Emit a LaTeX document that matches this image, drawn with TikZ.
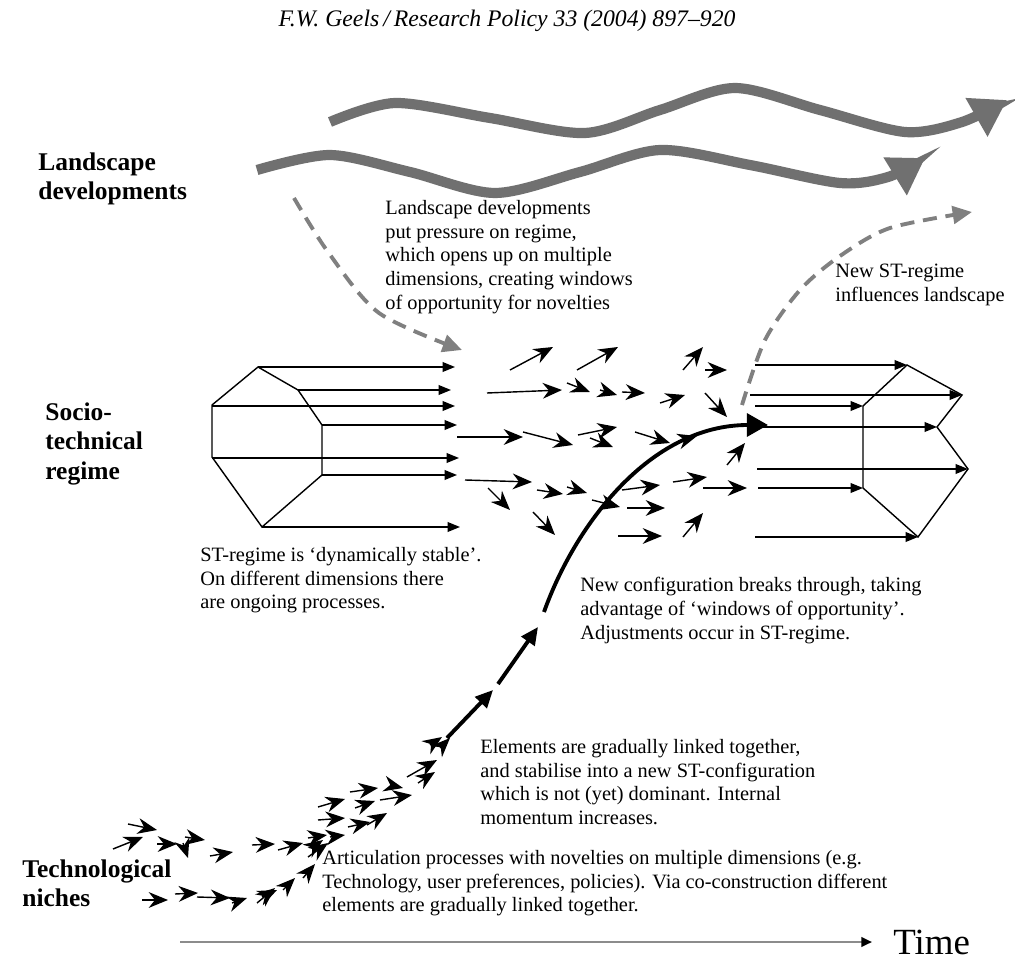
\documentclass[tikz,border=0pt]{standalone}
\usepackage{fontspec}
\setmainfont{Liberation Serif}
\usetikzlibrary{arrows.meta}
\definecolor{wavegray}{RGB}{112,112,112}
\definecolor{dashgray}{RGB}{128,128,128}
\definecolor{axisgray}{RGB}{140,140,140}

\begin{document}
\begin{tikzpicture}[x=0.02cm,y=-0.02cm,
    levelname/.style={font=\fontsize{14.5}{17}\selectfont\bfseries,align=left,anchor=north west,inner sep=0pt},
    note/.style={font=\fontsize{11.6}{13.5}\selectfont,align=left,anchor=north west,inner sep=0pt},
    wave/.style={wavegray,line width=5.8pt,-{Triangle[length=20pt,width=24pt]}},
    feedback/.style={dashgray,line width=2.2pt,dash pattern=on 8pt off 5pt,-{Triangle[length=11pt,width=10pt]}},
    dim/.style={line width=0.8pt,-{Triangle[length=7pt,width=5.5pt]}},
    move/.style={line width=0.8pt,-{Stealth[length=11pt,width=9pt]}},
    trajectory/.style={line width=2.2pt}]
  \useasboundingbox (0,0) rectangle (1015,976);
  \fill[white] (0,0) rectangle (1015,976);

  % header
  \node[font=\fontsize{13.5}{16}\selectfont\itshape,anchor=base] (head) at (507,27)
    {F.W. Geels\,/\,Research Policy 33 (2004) 897--920};

  % levels
  \node[levelname] (landscape) at (38,152) {Landscape\\developments};
  \node[levelname] (regime) at (45,402) {Socio-\\technical\\regime};
  \node[levelname] (niches) at (22,859) {Technological\\niches};

  % landscape waves
  \draw[wave] plot[smooth] coordinates {(330,122) (395,103) (490,118) (585,133) (660,110)
    (735,88) (820,110) (905,132) (962,122) (1007,100)};
  \draw[wave] plot[smooth] coordinates {(257,170) (330,155) (410,172) (495,193) (580,172)
    (660,150) (750,165) (840,183) (888,177) (925,158)};

  % pressure on regime and feedback to landscape
  \draw[feedback] plot[smooth] coordinates {(294,198) (328,252) (379,313) (462,350)};
  \draw[feedback] plot[smooth] coordinates {(742,405) (765,340) (800,290) (840,256) (890,228) (972,212)};

  % ST-regime, dynamically stable
  \draw[line width=0.8pt] (258,367) -- (298,390) -- (322,425) -- (322,475) -- (262,527)
    -- (212,457) -- (212,405) -- cycle;
  \foreach \xa/\ya/\xb in {258/367/455, 298/390/451, 212/406/455, 322/425/457,
      212/458/459, 322/475/457, 262/527/460}
    \draw[dim] (\xa,\ya) -- (\xb,\ya);

  % new ST-regime
  \draw[line width=0.8pt] (907,365) -- (962,395) -- (937,427) -- (968,469) -- (918,537)
    -- (863,488) -- (863,406) -- cycle;
  \foreach \xa/\xb/\yb in {755/907/365, 750/962/395, 755/863/406, 755/937/427,
      757/968/469, 758/863/488, 755/918/537}
    \draw[dim] (\xa,\yb) -- (\xb,\yb);

  % regime opening up
  \foreach \xa/\ya/\xb/\yb in {510/370/553/347, 577/370/618/347, 683/370/703/347, 705/370/727/370,
      487/393/562/390, 567/383/590/392, 600/390/617/395, 622/392/645/393, 660/403/685/395,
      705/393/727/417, 457/437/523/437, 523/432/573/445, 578/435/617/427, 590/438/613/447,
      635/432/670/443, 465/480/532/482, 488/488/510/510, 537/490/563/494, 567/487/587/493,
      533/512/555/535, 592/500/620/507, 622/490/660/485, 627/508/665/508, 673/482/707/477,
      703/488/747/488, 618/536/662/536, 683/537/703/513, 727/465/745/443, 680/441/697/436}
    \draw[move] (\xa,\ya) -- (\xb,\yb);

  % niche arrows
  \foreach \xa/\ya/\xb/\yb in {128/824/157/830, 113/849/143/837, 157/844/177/844, 185/837/205/840,
      183/843/188/858, 210/856/233/852, 252/845/275/844, 278/850/303/843, 308/838/327/835,
      313/847/323/840, 308/857/328/843, 330/837/345/835, 318/820/345/818, 318/807/345/799,
      348/827/370/822, 367/825/387/813, 350/792/378/788, 355/808/375/801, 380/800/412/795,
      390/785/403/788, 407/777/437/760, 418/783/435/772, 430/745/442/737, 440/748/450/738,
      142/900/168/900, 175/894/198/893, 197/897/230/898, 232/903/247/898, 257/903/275/888,
      262/897/277/890, 283/890/295/878, 303/878/315/864}
    \draw[move] (\xa,\ya) -- (\xb,\yb);

  % breakthrough of new configuration
  \coordinate (n0) at (447,738);
  \coordinate (n1) at (493,690);
  \coordinate (n2) at (498,684);
  \coordinate (n3) at (538,627);
  \coordinate (n4) at (544,612);
  \coordinate (br) at (768,425);
  \draw[trajectory,-{Triangle[length=10pt,width=9pt]}] (n0) -- (n1);
  \draw[trajectory,-{Triangle[length=10pt,width=9pt]}] (n2) -- (n3);
  \draw[trajectory,-{Triangle[length=12pt,width=13pt]}] (n4) .. controls (575,525) and (650,425) .. (br);

  % texts
  \node[note] (pressure) at (385,200) {Landscape developments\\put pressure on regime,\\which opens up on multiple\\dimensions, creating windows\\of opportunity for novelties};
  \node[note] (influence) at (835,264) {New ST-regime\\influences landscape};
  \node[note] (stable) at (200,547) {ST-regime is ‘dynamically stable’.\\On different dimensions there\\are ongoing processes.};
  \node[note] (breaks) at (580,577) {New configuration breaks through, taking\\advantage of ‘windows of opportunity’.\\Adjustments occur in ST-regime.};
  \node[note] (linked) at (480,739) {Elements are gradually linked together,\\and stabilise into a new ST-configuration\\which is not (yet) dominant. Internal\\momentum increases.};
  \node[note] (articulation) at (322,850) {Articulation processes with novelties on multiple dimensions (e.g.\\Technology, user preferences, policies). Via co-construction different\\elements are gradually linked together.};

  % time axis
  \coordinate (t0) at (180,942);
  \node[font=\fontsize{21}{24}\selectfont,anchor=west,inner sep=0pt] (time) at (893,942) {Time};
  \draw[axisgray,line width=1.2pt,-{Triangle[length=6pt,width=5.5pt,color=black]}] (t0) -- ([xshift=-12pt]time.west);
\end{tikzpicture}
\end{document}
